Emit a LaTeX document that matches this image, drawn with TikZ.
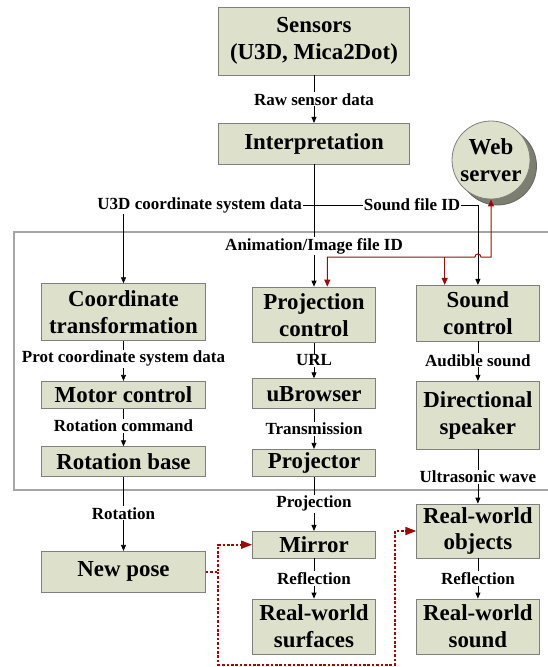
\documentclass[tikz,border=0pt]{standalone}
\usepackage{fontspec}
\setmainfont{Liberation Serif}
\usetikzlibrary{arrows.meta}
\definecolor{boxfill}{HTML}{DDE0CA}
\definecolor{boxline}{HTML}{7F7F7F}
\definecolor{linkred}{HTML}{9B0A0A}
\definecolor{shadowgray}{HTML}{7C7E70}
\definecolor{framegray}{HTML}{A6A6A6}
\begin{document}
\begin{tikzpicture}[x=1pt,y=-1pt,
  blk/.style={draw=boxline, fill=boxfill, line width=0.8pt, inner sep=0pt, align=center,
    font=\fontsize{22.9}{26.8}\selectfont\bfseries},
  lbl/.style={fill=white, inner sep=1pt, font=\fontsize{17}{19}\selectfont\bfseries},
  arr/.style={line width=0.8pt, -{Triangle[length=6pt,width=5pt]}},
  rline/.style={draw=linkred, line width=1pt},
  dotarr/.style={draw=linkred, line width=1.7pt, dash pattern=on 2.6pt off 1.8pt,
    -{Triangle[length=11pt,width=8pt,fill=linkred]}}
]
\useasboundingbox (0,0) rectangle (548,667);

% grey frame around the device part (open to the right)
\draw[framegray, line width=1.6pt] (14,232) rectangle (580,489.7);

% web server with its drop shadow
\filldraw[fill=shadowgray, draw=black!60, line width=0.8pt] (497.5,166) circle (39);
\node[blk, circle, minimum size=78pt] (ws) at (491,160) {Web\\server};

% top chain
\node[blk, minimum width=190.7pt, minimum height=67.7pt] (sens) at (314,41.2) {Sensors\\(U3D, Mica2Dot)};
\node[blk, minimum width=190.7pt, minimum height=40.7pt] (interp) at (314,143.7) {Interpretation};

% left column
\node[blk, minimum width=163.6pt, minimum height=56.6pt] (coord) at (123.5,312) {Coordinate\\transformation};
\node[blk, minimum width=163.6pt, minimum height=27.4pt] (motor) at (123.5,395) {Motor control};
\node[blk, minimum width=163.6pt, minimum height=29.6pt] (rotbase) at (123.5,461.5) {Rotation base};
\node[blk, minimum width=163.6pt, minimum height=41pt] (newpose) at (123.5,571.8) {New pose};

% middle column
\node[blk, minimum width=123pt, minimum height=55.7pt] (proj) at (314,314.9) {Projection\\control};
\node[blk, minimum width=123pt, minimum height=30pt] (ubrowser) at (314,393.7) {uBrowser};
\node[blk, minimum width=123pt, minimum height=27pt] (projector) at (314,462.8) {Projector};
\node[blk, minimum width=123pt, minimum height=26.7pt] (mirror) at (314,544.7) {Mirror};
\node[blk, minimum width=123pt, minimum height=55pt] (rwsurf) at (314,626.5) {Real-world\\surfaces};

% right column
\node[blk, minimum width=122.3pt, minimum height=55.7pt] (sound) at (477.9,313.2) {Sound\\control};
\node[blk, minimum width=122.3pt, minimum height=67.7pt] (dirspk) at (477.9,415.2) {Directional\\speaker};
\node[blk, minimum width=122.3pt, minimum height=54pt] (rwobj) at (477.9,531) {Real-world\\objects};
\node[blk, minimum width=122.3pt, minimum height=55pt] (rwsound) at (477.9,626.5) {Real-world\\sound};

% data flow
\draw[arr] (sens) -- node[lbl]{Raw sensor data} (interp);
\draw[arr] (interp) -- node[lbl, pos=0.667]{Animation/Image file ID} (proj);
\coordinate (jn) at (314,205);
\draw[arr] (jn) -| node[lbl, pos=0.3]{U3D coordinate system data} (coord);
\draw[arr] (jn) -| node[lbl, pos=0.299]{Sound file ID} (sound);

\draw[arr] (coord) -- node[lbl, pos=0.45]{Prot coordinate system data} (motor);
\draw[arr] (motor) -- node[lbl, pos=0.455]{Rotation command} (rotbase);
\draw[arr] (rotbase) -- node[lbl, pos=0.493]{Rotation} (newpose);

\draw[arr] (proj) -- node[lbl, pos=0.49]{URL} (ubrowser);
\draw[arr] (ubrowser) -- node[lbl, pos=0.49]{Transmission} (projector);
\draw[arr] (projector) -- node[lbl]{Projection} (mirror);
\draw[arr] (mirror) -- node[lbl]{Reflection} (rwsurf);

\draw[arr] (sound) -- node[lbl, pos=0.48]{Audible sound} (dirspk);
\draw[arr] (dirspk) -- node[lbl]{Ultrasonic wave} (rwobj);
\draw[arr] (rwobj) -- node[lbl]{Reflection} (rwsound);

% file requests to the web server
\coordinate (rl) at (327.3,257);
\coordinate (rb) at (444.7,257);
\coordinate (rr) at (491,257);
\draw[rline, {Triangle[length=7pt,width=6pt]}-{Triangle[length=7pt,width=6pt]}]
  (proj.north -| rl) -- (rl) -- (474.9,257)
  .. controls (474.9,253) and (480.9,253) .. (480.9,257) -- (rr) -- (ws);
\draw[rline, -{Triangle[length=7pt,width=6pt]}] (rb) -- (sound.north -| rb);

% pose change affects mirror and objects
\coordinate (dj) at (218.3,571.8);
\coordinate (db) at (218.3,664.7);
\coordinate (dr) at (394.7,664.7);
\draw[dotarr] (newpose) -- (dj) |- (mirror);
\draw[dotarr] (dj) -- (db) -- (dr) |- (rwobj);
\end{tikzpicture}
\end{document}
